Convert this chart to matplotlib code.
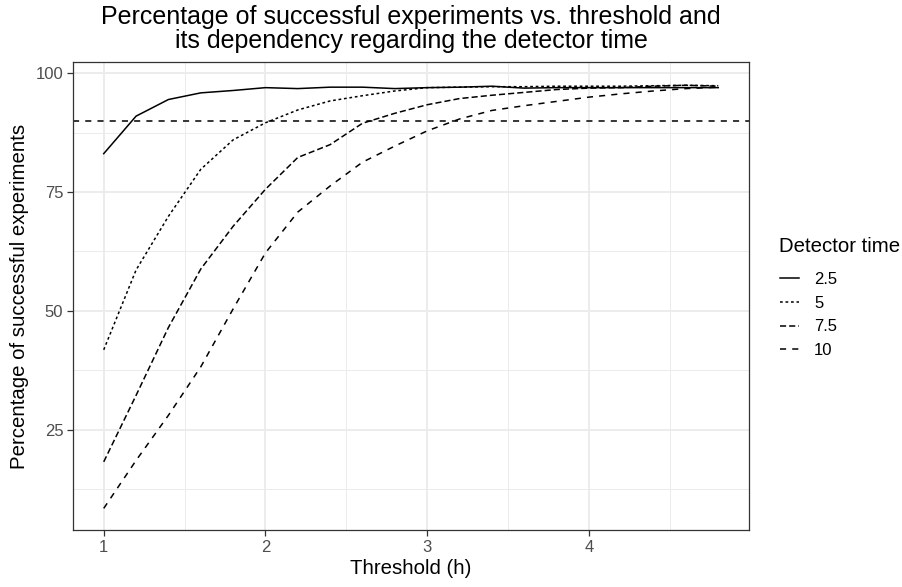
import matplotlib
matplotlib.use("Agg")
import matplotlib.pyplot as plt
from matplotlib.lines import Line2D

plt.rcParams['font.family'] = ['Liberation Sans', 'DejaVu Sans']

threshold = [1.0, 1.2, 1.4, 1.6, 1.8, 2.0, 2.2, 2.4, 2.6, 2.8,
             3.0, 3.2, 3.4, 3.6, 3.8, 4.0, 4.2, 4.4, 4.6, 4.8]
det_2_5 = [83.1, 91.0, 94.5, 95.9, 96.4, 97.0, 96.8, 97.1, 97.1, 96.8,
           97.0, 97.1, 97.3, 96.9, 97.0, 97.0, 97.0, 97.0, 97.0, 97.0]
det_5 = [41.8, 58.6, 69.9, 79.8, 86.0, 89.6, 92.3, 94.2, 95.3, 96.3,
         97.0, 97.1, 97.2, 97.2, 97.3, 97.3, 97.3, 97.4, 97.5, 97.4]
det_7_5 = [18.2, 32.2, 46.5, 58.8, 67.8, 75.6, 82.3, 85.0, 89.5, 91.6,
           93.4, 94.7, 95.4, 96.0, 96.6, 96.9, 97.0, 97.3, 97.5, 97.3]
det_10 = [8.4, 18.5, 28.0, 38.2, 50.4, 62.2, 70.8, 76.3, 81.3, 84.7,
          87.9, 90.4, 92.2, 93.2, 94.1, 95.0, 95.7, 96.3, 96.8, 97.1]
series_labels = ["2.5", "5", "7.5", "10"]
reference_level = 90

title = "Percentage of successful experiments vs. threshold and\nits dependency regarding the detector time"
xlabel = "Threshold (h)"
ylabel = "Percentage of successful experiments"
legend_title = "Detector time"

fig = plt.figure(figsize=(9.02, 5.87), dpi=100)
ax = fig.add_axes([73/902, 1-530/587, (749-73)/902, (530-62)/587])

lw = 1.1
styles = [dict(linestyle='-'),
          dict(dashes=(1.8, 1.8)),
          dict(dashes=(4, 2)),
          dict(dashes=(4, 4))]
series = [det_2_5, det_5, det_7_5, det_10]
for vals, st, lab in zip(series, styles, series_labels):
    ax.plot(threshold, vals, color='black', lw=lw, label=lab, **st)

ax.axhline(reference_level, color='black', lw=lw, dashes=(4, 4))

ax.set_xlim(0.81, 4.99)
ax.set_ylim(3.85, 102.4)
ax.set_xticks([1, 2, 3, 4])
ax.set_xticklabels(["1", "2", "3", "4"])
ax.set_yticks([25, 50, 75, 100])
ax.set_xticks([1.5, 2.5, 3.5, 4.5], minor=True)
ax.set_yticks([12.5, 37.5, 62.5, 87.5], minor=True)
ax.grid(which='major', color='#EBEBEB', lw=1.3)
ax.grid(which='minor', color='#EBEBEB', lw=0.7)
ax.set_axisbelow(True)
for s in ax.spines.values():
    s.set_color('#333333')
    s.set_linewidth(0.9)
ax.tick_params(which='major', length=4, color='#333333', width=0.9,
               labelsize=12, labelcolor='#4D4D4D', pad=3)
ax.tick_params(which='minor', length=0)

ax.set_xlabel(xlabel, fontsize=14.7, labelpad=3)
ax.set_ylabel(ylabel, fontsize=14.7, labelpad=5)
fig.text(411/902, 1-5/587, title, ha='center', va='top', fontsize=18, linespacing=1.0)

fig.text(779/902, 1-246/587, legend_title, ha='left', va='center', fontsize=14.7)
handles = [Line2D([0], [0], color='black', lw=lw, **st) for st in styles]
leg = fig.legend(handles, series_labels,
                 loc='upper left', bbox_to_anchor=(775/902, 1-267/587),
                 frameon=False, fontsize=12,
                 handlelength=1.15, handletextpad=0.9, labelspacing=0.52,
                 borderaxespad=0, borderpad=0.3)

fig.savefig("out.png", dpi=100)
